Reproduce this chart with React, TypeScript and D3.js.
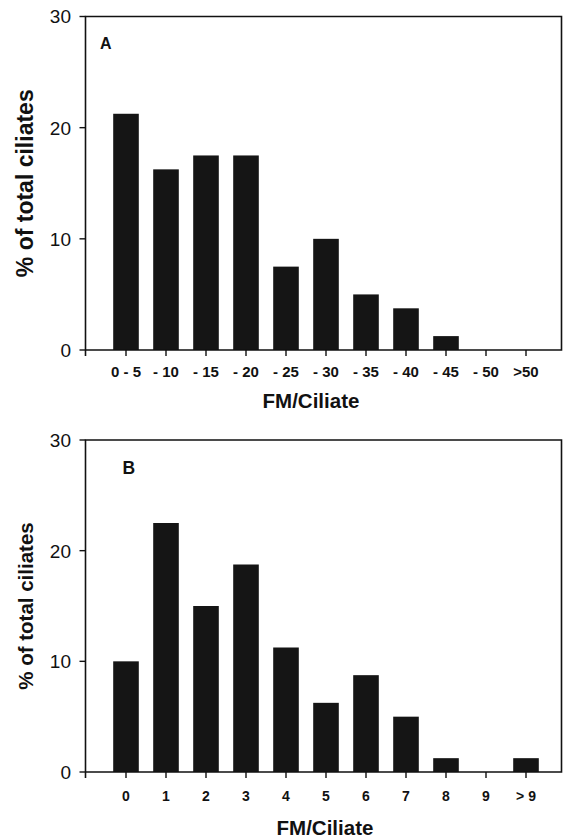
import React from "react";
import * as d3 from "d3";

// panel A: FM per ciliate, binned by 5
const catsA = ["0 - 5", "- 10", "- 15", "- 20", "- 25", "- 30", "- 35", "- 40", "- 45", "- 50", ">50"];
const valsA = [21.25, 16.25, 17.5, 17.5, 7.5, 10, 5, 3.75, 1.25, 0, 0];

// panel B: FM per ciliate, counts
const catsB = ["0", "1", "2", "3", "4", "5", "6", "7", "8", "9", "> 9"];
const valsB = [10, 22.5, 15, 18.75, 11.25, 6.25, 8.75, 5, 1.25, 0, 1.25];

const yTicks = [0, 10, 20, 30];

const font = "'Liberation Sans', Arial, sans-serif";

type PanelProps = {
  cats: string[];
  vals: number[];
  letter: string;
  top: number;
  bottom: number;
  letterX: number;
  letterY: number;
  letterSize: number;
  titleSize: number;
  tickY: number;
  tickSize: number;
  xTitleX: number;
  xTitleY: number;
};

const Panel = (p: PanelProps) => {
  const left = 85.5;
  const right = 561.5;
  const x = d3.scaleBand<string>().domain(p.cats).range([106, 546]).paddingInner(0.36).paddingOuter(0.18);
  const y = d3.scaleLinear().domain([0, 30]).range([p.bottom, p.top]);
  return (
    <g>
      {p.cats.map((c, i) => (
        <rect key={c} x={x(c)} y={y(p.vals[i])} width={x.bandwidth()} height={y(0) - y(p.vals[i])} fill="#151515" />
      ))}
      {/* frame */}
      <path d={`M${left},${p.bottom + 6}V${p.top}H${right}V${p.bottom}H${left}`} fill="none" stroke="#111" strokeWidth={1.6} />
      {yTicks.map((t) => (
        <g key={t}>
          <line x1={left - 6} x2={left} y1={y(t)} y2={y(t)} stroke="#111" strokeWidth={1.4} />
          <text x={71} y={y(t)} dy="0.36em" textAnchor="end" fontFamily={font} fontSize={19} fill="#111">{t}</text>
        </g>
      ))}
      {p.cats.map((c) => (
        <g key={c}>
          <line x1={x(c)! + x.bandwidth() / 2} x2={x(c)! + x.bandwidth() / 2} y1={p.bottom} y2={p.bottom + 6} stroke="#111" strokeWidth={1.4} />
          <text x={x(c)! + x.bandwidth() / 2} y={p.tickY} textAnchor="middle" fontFamily={font} fontWeight="bold" fontSize={p.tickSize} fill="#111">{c}</text>
        </g>
      ))}
      <text x={p.letterX} y={p.letterY} fontFamily={font} fontWeight="bold" fontSize={p.letterSize} fill="#111">{p.letter}</text>
      <text transform={`translate(33,${(p.top + p.bottom) / 2 + (p.letter === "A" ? 0 : 0)}) rotate(-90)`} textAnchor="middle" fontFamily={font} fontWeight="bold" fontSize={p.titleSize} fill="#111">% of total ciliates</text>
      <text x={p.xTitleX} y={p.xTitleY} textAnchor="middle" fontFamily={font} fontWeight="bold" fontSize={20.5} fill="#111">FM/Ciliate</text>
    </g>
  );
};

const App = () => {
  return (
    <svg width={563} height={838} style={{ position: "absolute", left: 0, top: 0, background: "#fff" }}>
      <Panel cats={catsA} vals={valsA} letter="A" top={16.5} bottom={350} letterX={100} letterY={49} letterSize={16} titleSize={23} tickY={377} tickSize={15} xTitleX={311} xTitleY={408} />
      <Panel cats={catsB} vals={valsB} letter="B" top={440} bottom={772} letterX={122.5} letterY={474} letterSize={17.5} titleSize={20.5} tickY={801} tickSize={14} xTitleX={325} xTitleY={835} />
    </svg>
  );
};

export default App;
